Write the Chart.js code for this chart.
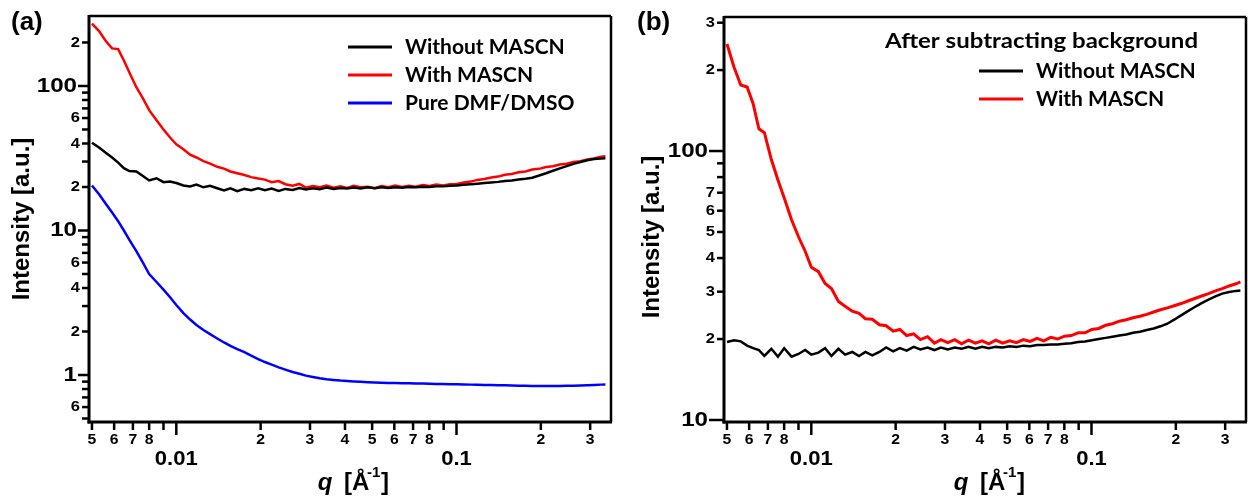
<!DOCTYPE html>
<html>
<head>
<meta charset="utf-8">
<script src="https://cdn.jsdelivr.net/npm/chart.js@4.4.0/dist/chart.umd.min.js"></script>
<style>
  html, body { margin: 0; padding: 0; background: #fff; }
  #wrap { position: relative; width: 1248px; height: 501px; overflow: hidden; }
  .panel { position: absolute; top: 0; width: 624px; height: 501px; }
</style>
</head>
<body>
<div id="wrap">
  <div class="panel" style="left:0"><canvas id="chartA" width="624" height="501"></canvas></div>
  <div class="panel" style="left:624px"><canvas id="chartB" width="624" height="501"></canvas></div>
</div>
<script>
// === Data ===
const q = [
  0.0050, 0.0053, 0.0056, 0.0059, 0.0062, 0.0065, 0.0068, 0.0072, 0.0076, 0.0080,
  0.0085, 0.0090, 0.0095, 0.0100, 0.0106, 0.0112, 0.0118, 0.0125, 0.0132, 0.0140,
  0.0148, 0.0156, 0.0165, 0.0175, 0.0185, 0.0196, 0.0207, 0.0219, 0.0232, 0.0245,
  0.0260, 0.0275, 0.0290, 0.0307, 0.0325, 0.0344, 0.0364, 0.0385, 0.0407, 0.0430,
  0.0455, 0.0482, 0.0510, 0.0540, 0.0571, 0.0604, 0.0639, 0.0676, 0.0715, 0.0757,
  0.0801, 0.0847, 0.0896, 0.0948, 0.1003, 0.1061, 0.1123, 0.1188, 0.1257, 0.1330,
  0.1407, 0.1489, 0.1575, 0.1666, 0.1763, 0.1865, 0.1973, 0.2088, 0.2209, 0.2337,
  0.2473, 0.2616, 0.2768, 0.2929, 0.3099, 0.3279, 0.3400
];

// panel (a)
const aWithout = [
  40.5, 37.5, 34.5, 32, 29.5, 27, 25.8, 25.6, 23.8, 22.2,
  23.0, 21.6, 21.8, 21.3, 20.5, 20.2, 20.8, 19.9, 20.4, 19.6,
  18.9, 19.6, 18.7, 19.4, 19.0, 19.6, 19.0, 19.5, 18.8, 19.4,
  19.1, 19.7, 19.2, 19.6, 19.3, 19.8, 19.4, 19.7, 19.5, 19.8,
  19.5, 19.9, 19.6, 19.9, 19.7, 19.9, 19.8, 20.0, 19.9, 20.1,
  20.0, 20.2, 20.2, 20.4, 20.5, 20.7, 20.9, 21.1, 21.3, 21.5,
  21.7, 22.0, 22.2, 22.5, 22.8, 23.2, 24.0, 24.9, 25.9, 26.9,
  27.9, 28.9, 29.8, 30.6, 31.2, 31.5, 31.6
];
const aWith = [
  270, 240, 205, 182, 180, 150, 124, 98, 82, 68,
  58, 50, 44, 39.5, 36.5, 33.5, 32, 30.2, 29, 27.6,
  26.8, 25.6, 24.9, 24.2, 23.4, 22.9, 22.5, 21.6, 22.0, 20.9,
  20.4, 21.0, 19.8, 20.3, 19.9, 20.5, 19.8, 20.2, 19.7, 20.4,
  19.9, 20.1, 19.6, 20.3, 19.9, 20.5, 20.0, 20.4, 20.1, 20.6,
  20.3, 20.8, 20.5, 20.9, 21.0, 21.5, 21.8, 22.4, 22.7, 23.3,
  23.6, 24.3, 24.6, 25.3, 25.6, 26.4, 26.7, 27.5, 27.8, 28.6,
  29.0, 29.8, 30.2, 31.0, 31.5, 32.4, 32.6
];
const aPure = [
  20.5, 17.8, 15.3, 13.3, 11.6, 10.0, 8.6, 7.2, 6.0, 5.0,
  4.4, 3.9, 3.45, 3.05, 2.68, 2.42, 2.22, 2.05, 1.92, 1.79,
  1.68, 1.59, 1.51, 1.44, 1.36, 1.29, 1.23, 1.18, 1.13, 1.09,
  1.05, 1.02, 0.99, 0.97, 0.95, 0.935, 0.925, 0.915, 0.908, 0.902,
  0.897, 0.892, 0.888, 0.885, 0.882, 0.88, 0.878, 0.876, 0.874, 0.872,
  0.87, 0.868, 0.866, 0.864, 0.862, 0.86, 0.858, 0.856, 0.854, 0.852,
  0.85, 0.848, 0.846, 0.844, 0.842, 0.841, 0.84, 0.84, 0.84, 0.841,
  0.842, 0.844, 0.847, 0.85, 0.854, 0.858, 0.86
];

// panel (b)
const bWithout = [
  19.5, 19.8, 19.6, 18.9, 18.5, 18.2, 17.3, 18.4, 17.2, 18.5,
  17.2, 17.6, 18.2, 17.5, 17.8, 18.5, 17.3, 18.4, 17.5, 17.9,
  17.3, 17.9, 17.4, 17.9, 18.6, 18.0, 18.5, 18.1, 18.7, 18.3,
  18.6, 18.2, 18.6, 18.3, 18.6, 18.4, 18.7, 18.4, 18.7, 18.5,
  18.7, 18.6, 18.8, 18.7, 18.9, 18.8, 19.0, 19.0, 19.1, 19.1,
  19.2, 19.3, 19.5, 19.6, 19.8, 20.0, 20.2, 20.4, 20.6, 20.8,
  21.1, 21.3, 21.6, 21.9, 22.3, 22.8, 23.6, 24.5, 25.4, 26.3,
  27.2, 28.0, 28.8, 29.5, 29.9, 30.2, 30.3
];
const bWith = [
  250, 205, 176, 173, 150, 121, 117, 93, 78, 67,
  55.5, 48, 42.5, 37, 35.6, 32.2, 30.8, 27.6, 26.5, 25.4,
  24.9, 23.8, 23.7, 22.6, 22.4, 21.4, 21.7, 20.6, 20.9, 19.9,
  20.4, 19.3, 19.9, 19.4, 19.9, 19.2, 19.8, 19.3, 19.7, 19.2,
  19.8, 19.3, 19.7, 19.4, 19.9, 19.6, 20.1, 19.7, 20.3, 20.0,
  20.5, 20.6, 21.1, 21.1, 21.7, 21.9, 22.5, 22.8, 23.3, 23.6,
  24.0, 24.3, 24.7, 25.2, 25.7, 26.1, 26.6, 27.1, 27.7, 28.3,
  28.9, 29.5, 30.2, 30.8, 31.5, 32.1, 32.6
];

// === Tick values and labels ===
const xTickVals = [0.005, 0.006, 0.007, 0.008, 0.009, 0.01, 0.02, 0.03, 0.04, 0.05, 0.06, 0.07, 0.08, 0.09, 0.1, 0.2, 0.3];
const xTickText = ['5', '6', '7', '8', '', '0.01', '2', '3', '4', '5', '6', '7', '8', '', '0.1', '2', '3'];
const xMajor = [0.01, 0.1];

const yTickValsA = [0.5, 0.6, 0.7, 0.8, 0.9, 1, 2, 3, 4, 5, 6, 7, 8, 9, 10, 20, 30, 40, 50, 60, 70, 80, 90, 100, 200];
const yTickTextA = ['', '6', '', '', '', '1', '2', '', '4', '', '6', '', '', '', '10', '2', '', '4', '', '6', '', '', '', '100', '2'];
const yMajorA = [1, 10, 100];

const yTickValsB = [10, 20, 30, 40, 50, 60, 70, 80, 90, 100, 200, 300];
const yTickTextB = ['10', '2', '3', '4', '5', '6', '7', '', '', '100', '2', '3'];
const yMajorB = [10, 100];

const seriesNames = ['Without MASCN', 'With MASCN', 'Pure DMF/DMSO'];
const seriesColors = ['#000000', '#ff0000', '#0000ff'];

// === Helpers ===
const TICK_FONT = "bold 15px 'Liberation Sans', Arial, sans-serif";
const DEC_FONT = "bold 21px 'Liberation Sans', Arial, sans-serif";
const TITLE_FONT = "bold 24px 'Liberation Sans', Arial, sans-serif";
const LEG_FONT = "bold 21px Lato, 'Open Sans', sans-serif";

function txt(ctx, s, x, y, font, align, sx) {
  ctx.save();
  ctx.font = font;
  ctx.textAlign = align || 'center';
  ctx.textBaseline = 'middle';
  ctx.translate(x, y);
  ctx.scale(sx || 1, 1);
  ctx.fillText(s, 0, 0);
  ctx.restore();
}

function seg(ctx, x1, y1, x2, y2, w) {
  ctx.lineWidth = w;
  ctx.beginPath();
  ctx.moveTo(x1, y1);
  ctx.lineTo(x2, y2);
  ctx.stroke();
}

function series(vals) {
  return vals.map((v, i) => ({ x: q[i], y: v }));
}

// === Axes / frame / legend plugin ===
const logAxes = {
  id: 'logAxes',
  afterDraw(chart, args, o) {
    const { ctx, chartArea: a } = chart;
    const x = chart.scales.x, y = chart.scales.y;
    ctx.save();
    ctx.strokeStyle = '#000';
    ctx.fillStyle = '#000';
    ctx.lineCap = 'butt';

    // frame
    seg(ctx, a.left, a.top - 1, a.left, a.bottom + 1.5, 3);
    seg(ctx, a.left - 1.5, a.bottom, a.right + 1, a.bottom, 3);
    seg(ctx, a.left, a.top, a.right, a.top, 2.5);
    seg(ctx, a.right, a.top, a.right, a.bottom, 2.5);

    // x ticks
    xTickVals.forEach((v, i) => {
      const px = x.getPixelForValue(v);
      const major = xMajor.includes(v);
      seg(ctx, px, a.bottom, px, a.bottom + (major ? 13 : 8), 2.5);
      if (!xTickText[i]) return;
      if (major) txt(ctx, xTickText[i], px, a.bottom + 37, DEC_FONT, 'center', 1.05);
      else txt(ctx, xTickText[i], px, a.bottom + 18, TICK_FONT, 'center', 1.05);
    });

    // y ticks
    o.yVals.forEach((v, i) => {
      const py = y.getPixelForValue(v);
      const major = o.yMajor.includes(v);
      seg(ctx, a.left, py, a.left - (major ? o.majorLen : 7), py, 2.5);
      if (!o.yText[i]) return;
      if (major) txt(ctx, o.yText[i], a.left - o.majorLen - 1, py, DEC_FONT, 'right', 1.15);
      else txt(ctx, o.yText[i], a.left - 9, py, TICK_FONT, 'right', 1.1);
    });

    // axis titles
    ctx.save();
    ctx.translate(o.yTitleX, o.yTitleY);
    ctx.rotate(-Math.PI / 2);
    txt(ctx, 'Intensity [a.u.]', 0, 0, TITLE_FONT, 'center');
    ctx.restore();

    const cx = o.xTitleX, by = 483;
    txt(ctx, 'q', cx - 27, by, "italic bold 24px 'Liberation Sans', Arial, sans-serif", 'center');
    txt(ctx, '[Å', cx - 8, by, TITLE_FONT, 'left');
    txt(ctx, '-1', cx + 15, by - 10, "bold 15px 'Liberation Sans', Arial, sans-serif", 'left');
    txt(ctx, ']', cx + 29, by, TITLE_FONT, 'left');

    // panel letter
    txt(ctx, o.panel, o.panelX, 23, "bold 26px 'Liberation Sans', Arial, sans-serif", 'left');

    // legend
    if (o.heading) {
      ctx.font = LEG_FONT;
      const sx = o.headW / ctx.measureText(o.heading).width;
      txt(ctx, o.heading, o.headX, o.headY, LEG_FONT, 'left', sx);
    }
    chart.data.datasets.forEach((ds, i) => {
      const ly = o.legY + i * 28;
      ctx.strokeStyle = ds.borderColor;
      seg(ctx, o.legX, ly, o.legX + 44, ly, 3);
      txt(ctx, ds.label, o.legX + 57, ly, LEG_FONT, 'left');
    });
    ctx.restore();
  }
};

function makeChart(id, datasets, yMin, yMax, pad, axisOpts) {
  return new Chart(document.getElementById(id), {
    type: 'line',
    data: { datasets },
    options: {
      responsive: false,
      animation: false,
      layout: { padding: pad },
      elements: { point: { radius: 0 }, line: { borderWidth: 2.5, tension: 0 } },
      scales: {
        x: { type: 'logarithmic', min: 0.00488, max: 0.356, display: false },
        y: { type: 'logarithmic', min: yMin, max: yMax, display: false }
      },
      plugins: {
        legend: { display: false },
        tooltip: { enabled: false },
        logAxes: axisOpts
      }
    },
    plugins: [logAxes]
  });
}

// === Panel (a) ===
makeChart('chartA', [
  { label: seriesNames[0], data: series(aWithout), borderColor: seriesColors[0] },
  { label: seriesNames[1], data: series(aWith), borderColor: seriesColors[1] },
  { label: seriesNames[2], data: series(aPure), borderColor: seriesColors[2] }
], 0.473, 305, { left: 89, top: 16, right: 13, bottom: 79 }, {
  yVals: yTickValsA, yText: yTickTextA, yMajor: yMajorA, majorLen: 11,
  yTitleX: 22, yTitleY: 219, xTitleX: 352,
  panel: '(a)', panelX: 11,
  legX: 348, legY: 47
});

// === Panel (b) ===
makeChart('chartB', [
  { label: seriesNames[0], data: series(bWithout), borderColor: seriesColors[0], borderWidth: 2.5 },
  { label: seriesNames[1], data: series(bWith), borderColor: seriesColors[1], borderWidth: 3 }
], 9.83, 315, { left: 100, top: 17, right: 2, bottom: 79 }, {
  yVals: yTickValsB, yText: yTickTextB, yMajor: yMajorB, majorLen: 15,
  yTitleX: 28, yTitleY: 237, xTitleX: 364,
  panel: '(b)', panelX: 13,
  heading: 'After subtracting background', headX: 261, headY: 41, headW: 313,
  legX: 355, legY: 71
});
</script>
</body>
</html>
